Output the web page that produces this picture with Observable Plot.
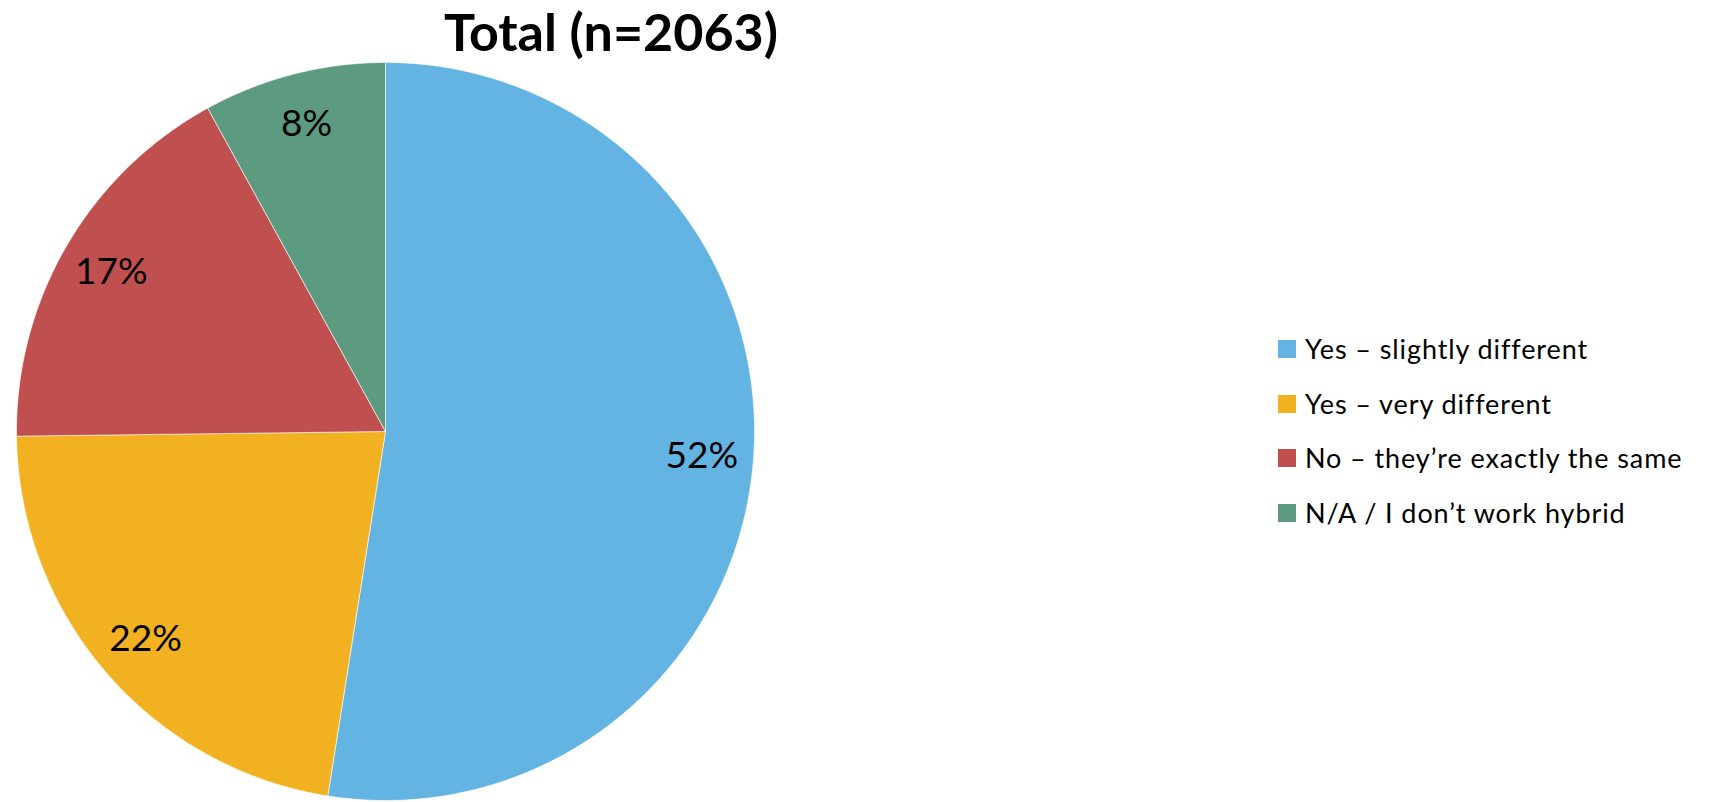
<!DOCTYPE html>
<html>
<head>
<meta charset="utf-8">
<script src="https://cdn.jsdelivr.net/npm/d3@7"></script>
<script src="https://cdn.jsdelivr.net/npm/@observablehq/plot@0.6"></script>
<style>
  html, body { margin: 0; padding: 0; background: #fff; }
  body { width: 1721px; height: 802px; position: relative; overflow: hidden; font-family: Lato, "Open Sans", sans-serif; }
  #title { position: absolute; left: 0; top: 0; width: 1222px; height: 62px; line-height: 62px; text-align: center; font-size: 52px; font-weight: 700; color: #000; }
  #chart { position: absolute; left: 0; top: 62px; }
  #legend { position: absolute; left: 1278px; top: 340px; }
  .row { position: absolute; left: 0; display: flex; align-items: center; height: 18px; white-space: nowrap; font-size: 27px; letter-spacing: 0.9px; line-height: 18px; color: #000; }
  .sw { width: 18px; height: 18px; margin-right: 9px; flex: none; }
</style>
</head>
<body>
<div id="title">Total (n=2063)</div>
<div id="chart"></div>
<div id="legend"></div>
<script>
const categories = ["Yes – slightly different", "Yes – very different", "No – they’re exactly the same", "N/A / I don’t work hybrid"];
const values = [52.5, 22.3, 17.2, 8.0];
const labels = ["52%", "22%", "17%", "8%"];
const colors = ["#63B3E3", "#F2B120", "#C0504F", "#5D9B80"];

const pie = d3.pie().sort(null).value(d => d)(values);

// slice outlines (angle measured clockwise from 12 o'clock)
const slicePts = [];
pie.forEach((p, i) => {
  const n = Math.max(8, Math.ceil((p.endAngle - p.startAngle) / (Math.PI * 2) * 720));
  slicePts.push({cat: categories[i], x: 0, y: 0});
  for (let k = 0; k <= n; k++) {
    const a = p.startAngle + (p.endAngle - p.startAngle) * k / n;
    slicePts.push({cat: categories[i], x: Math.sin(a), y: Math.cos(a)});
  }
  slicePts.push({cat: categories[i], x: 0, y: 0});
});

const labelPts = pie.map((p, i) => {
  const a = (p.startAngle + p.endAngle) / 2;
  const r = 0.86;
  return {cat: categories[i], label: labels[i], x: r * Math.sin(a), y: r * Math.cos(a)};
});

const chart = Plot.plot({
  width: 770,
  height: 740,
  margin: 0,
  x: {domain: [-1, 1], range: [16, 754], axis: null},
  y: {domain: [-1, 1], range: [738, 0], axis: null},
  color: {domain: categories, range: colors},
  style: {background: "transparent", overflow: "visible"},
  marks: [
    Plot.line(slicePts, {x: "x", y: "y", z: "cat", fill: "cat", stroke: "#ffffff", strokeWidth: 0.6, curve: "linear"}),
    Plot.text(labelPts, {x: "x", y: "y", text: "label", fill: "#000", fontSize: 37, fontFamily: "Lato, 'Open Sans', sans-serif"})
  ]
});
document.getElementById("chart").appendChild(chart);

const legend = document.getElementById("legend");
categories.forEach((c, i) => {
  const row = document.createElement("div");
  row.className = "row";
  row.style.top = (i * 54.7) + "px";
  const sw = document.createElement("span");
  sw.className = "sw";
  sw.style.background = colors[i];
  const tx = document.createElement("span");
  tx.textContent = c;
  row.appendChild(sw);
  row.appendChild(tx);
  legend.appendChild(row);
});
</script>
</body>
</html>
